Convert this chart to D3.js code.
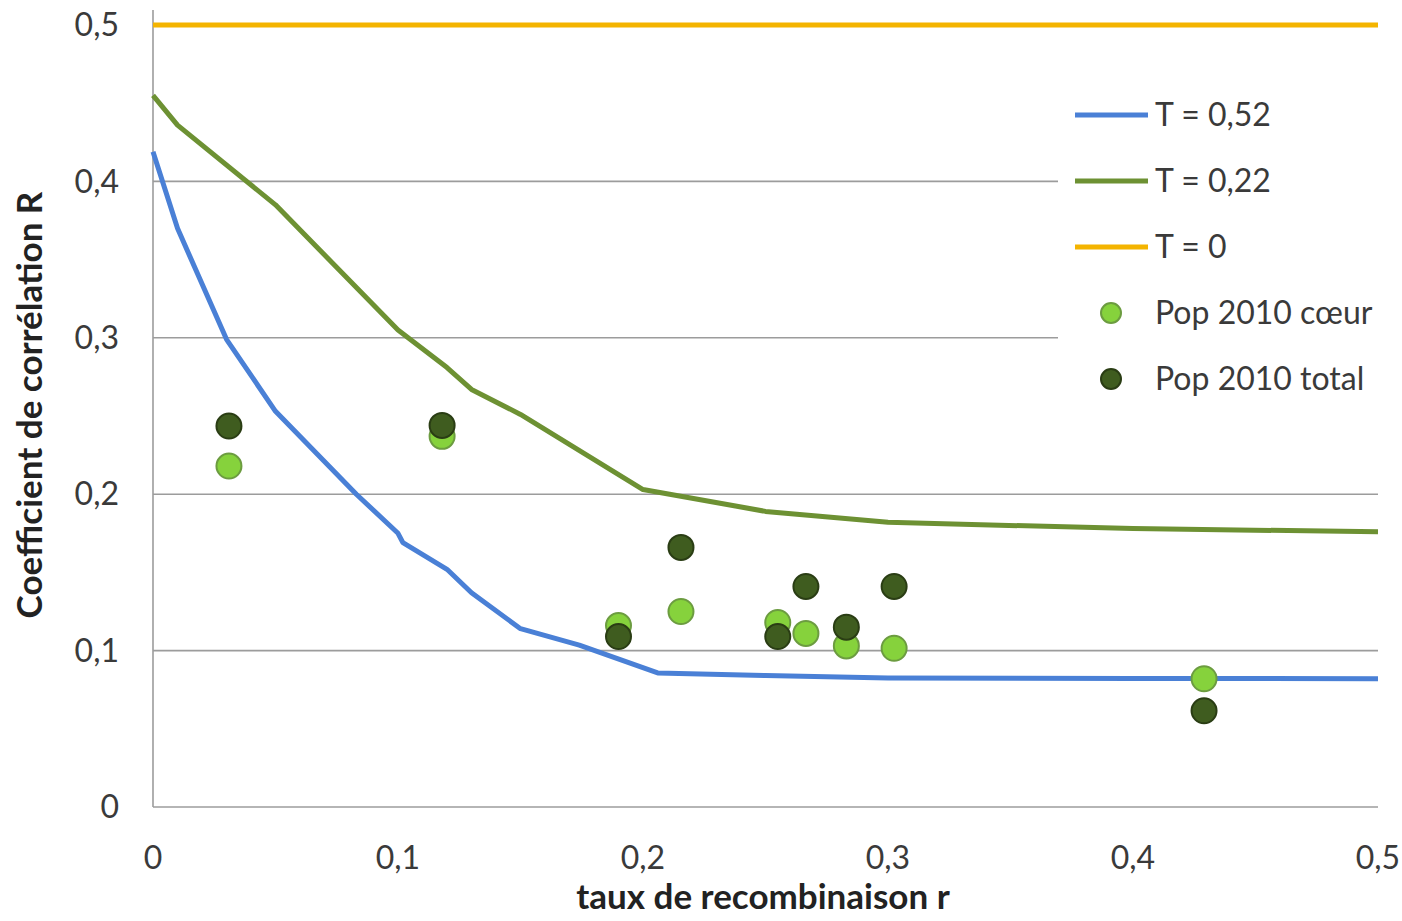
<!DOCTYPE html>
<html><head><meta charset="utf-8">
<script src="https://cdn.jsdelivr.net/npm/d3@7"></script>
<style>body{margin:0;background:#fff}svg{display:block}</style>
</head><body>
<svg id="c" width="1402" height="921"></svg>
<script>
// ---- data ----
const rBlue = [0, 0.01, 0.03, 0.05, 0.083, 0.1, 0.102, 0.12, 0.13, 0.15, 0.174, 0.206, 0.25, 0.3, 0.4, 0.5];
const vBlue = [0.419, 0.37, 0.299, 0.253, 0.2, 0.175, 0.169, 0.152, 0.137, 0.114, 0.1035, 0.0857, 0.084, 0.0825, 0.0822, 0.082];
const rGreen = [0, 0.01, 0.05, 0.1, 0.12, 0.13, 0.15, 0.2, 0.25, 0.3, 0.4, 0.5];
const vGreen = [0.455, 0.436, 0.385, 0.305, 0.281, 0.267, 0.251, 0.203, 0.189, 0.182, 0.178, 0.176];
const rYellow = [0, 0.5];
const vYellow = [0.5, 0.5];
const rPts = [0.031, 0.118, 0.19, 0.2155, 0.255, 0.2665, 0.283, 0.3025, 0.429];
const coeur = [0.218, 0.237, 0.116, 0.125, 0.118, 0.111, 0.103, 0.1015, 0.082];
const total = [0.2436, 0.244, 0.109, 0.166, 0.109, 0.141, 0.115, 0.141, 0.0615];
const xTicks = [0, 0.1, 0.2, 0.3, 0.4, 0.5];
const yTicks = [0, 0.1, 0.2, 0.3, 0.4, 0.5];
const fmt = d => String(d).replace('.', ',');

const svg = d3.select('#c');
const x = d3.scaleLinear().domain([0, 0.5]).range([153, 1378]);
const y = d3.scaleLinear().domain([0, 0.5]).range([807, 25]);
const font = "Lato, 'Open Sans', sans-serif";
const txt = '#3a3a3a';

// gridlines
svg.append('g').selectAll('line').data(yTicks.filter(d => d > 0 && d < 0.5)).join('line')
  .attr('x1', x(0)).attr('x2', x(0.5)).attr('y1', d => y(d)).attr('y2', d => y(d))
  .attr('stroke', '#9c9c9c').attr('stroke-width', 1.6);

// legend background (covers gridlines)
svg.append('rect').attr('x', 1058).attr('y', 80).attr('width', 340).attr('height', 330).attr('fill', '#fff');

// axes lines
svg.append('line').attr('x1', x(0)).attr('x2', x(0)).attr('y1', 10).attr('y2', y(0))
  .attr('stroke', '#9c9c9c').attr('stroke-width', 1.6);
svg.append('line').attr('x1', x(0)).attr('x2', x(0.5)).attr('y1', y(0)).attr('y2', y(0))
  .attr('stroke', '#9c9c9c').attr('stroke-width', 1.6);

// tick labels
svg.append('g').selectAll('text').data(yTicks).join('text')
  .attr('x', 119).attr('y', d => y(d)).attr('dy', '0.35em').attr('text-anchor', 'end')
  .attr('font-family', font).attr('font-size', 32).attr('fill', txt).text(fmt);
svg.append('g').selectAll('text').data(xTicks).join('text')
  .attr('x', d => x(d)).attr('y', 858).attr('dy', '0.35em').attr('text-anchor', 'middle')
  .attr('font-family', font).attr('font-size', 32).attr('fill', txt).text(fmt);

// axis titles
svg.append('text').attr('x', 763).attr('y', 897).attr('dy', '0.35em').attr('text-anchor', 'middle')
  .attr('font-family', font).attr('font-weight', 'bold').attr('font-size', 35).attr('fill', '#222')
  .text('taux de recombinaison r');
svg.append('text').attr('transform', 'translate(30,405) rotate(-90)').attr('dy', '0.35em').attr('text-anchor', 'middle')
  .attr('font-family', font).attr('font-weight', 'bold').attr('font-size', 35).attr('fill', '#222')
  .text('Coefficient de corrélation R');

// lines
const line = d3.line().x(d => x(d[0])).y(d => y(d[1]));
const series = [
  {r: rYellow, v: vYellow, c: '#f4b400'},
  {r: rGreen, v: vGreen, c: '#6d9133'},
  {r: rBlue, v: vBlue, c: '#4a80d6'}
];
series.forEach(s => {
  svg.append('path').datum(s.r.map((r, i) => [r, s.v[i]])).attr('d', line)
    .attr('fill', 'none').attr('stroke', s.c).attr('stroke-width', 5).attr('stroke-linejoin', 'round');
});

// scatter
const lightFill = '#86d23c', lightStroke = '#6c9c40';
const darkFill = '#3f5c1f', darkStroke = '#2a3d14';
svg.append('g').selectAll('circle').data(rPts.map((r, i) => [r, coeur[i]])).join('circle')
  .attr('cx', d => x(d[0])).attr('cy', d => y(d[1])).attr('r', 12.5)
  .attr('fill', lightFill).attr('stroke', lightStroke).attr('stroke-width', 2);
svg.append('g').selectAll('circle').data(rPts.map((r, i) => [r, total[i]])).join('circle')
  .attr('cx', d => x(d[0])).attr('cy', d => y(d[1])).attr('r', 12.5)
  .attr('fill', darkFill).attr('stroke', darkStroke).attr('stroke-width', 2);

// legend
const leg = [
  {t: 'T = 0,52', type: 'line', c: '#4a80d6'},
  {t: 'T = 0,22', type: 'line', c: '#6d9133'},
  {t: 'T = 0', type: 'line', c: '#f4b400'},
  {t: 'Pop 2010 cœur', type: 'pt', f: lightFill, s: lightStroke},
  {t: 'Pop 2010 total', type: 'pt', f: darkFill, s: darkStroke}
];
leg.forEach((l, i) => {
  const ly = 115 + i * 66;
  if (l.type === 'line') {
    svg.append('line').attr('x1', 1075).attr('x2', 1148).attr('y1', ly).attr('y2', ly)
      .attr('stroke', l.c).attr('stroke-width', 5);
  } else {
    svg.append('circle').attr('cx', 1111).attr('cy', ly).attr('r', 10)
      .attr('fill', l.f).attr('stroke', l.s).attr('stroke-width', 2);
  }
  svg.append('text').attr('x', 1155).attr('y', ly).attr('dy', '0.35em')
    .attr('font-family', font).attr('font-size', 32).attr('fill', txt).text(l.t);
});
</script>
</body></html>
